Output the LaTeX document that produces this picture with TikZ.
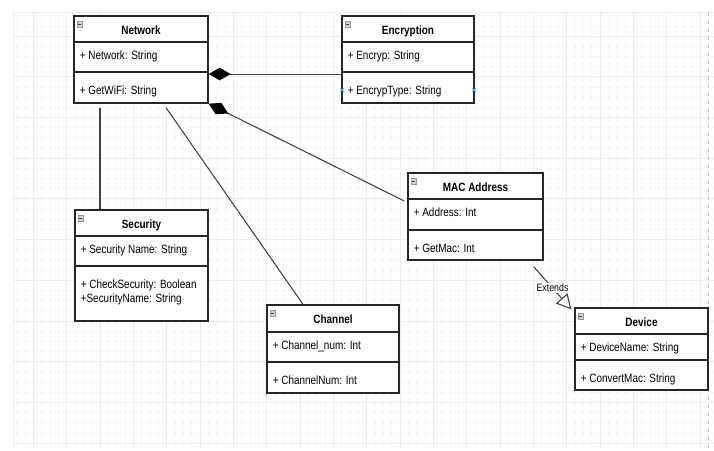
\documentclass[tikz,border=0pt]{standalone}
\usepackage{fontspec}
\setmainfont{Liberation Sans}[FakeStretch=0.83]
\usetikzlibrary{arrows.meta,fit,calc}
\definecolor{gridminor}{HTML}{F8F8F8}
\definecolor{gridmajor}{HTML}{EDEDED}
\definecolor{selblue}{HTML}{29A8F0}
\tikzset{
  classbox/.style={draw=black!85, line width=1pt, inner sep=0pt, fill=white},
  sepline/.style={draw=black!85, line width=1pt},
  iconstyle/.style={draw=gray!80, fill=gray!35, line width=0.45pt},
  iconminus/.style={draw=black!75, line width=0.55pt},
  titletext/.style={font=\fontsize{9pt}{10.5pt}\selectfont\bfseries, inner sep=0pt, anchor=base},
  bodytext/.style={font=\fontsize{9pt}{10.5pt}\selectfont, inner sep=0pt, anchor=base west},
  conn/.style={draw=black!75, line width=0.8pt},
  comp/.style={conn, {Diamond[length=16.5pt,width=9.5pt,color=black]}-},
  ext/.style={conn, -{Triangle[open,length=11pt,width=11.5pt]}},
  extlabel/.style={font=\fontsize{8pt}{9pt}\selectfont, fill=white, inner sep=0.8pt},
  selmark/.style={draw=selblue, line width=0.6pt},
}
% #1 name, #2 x1, #3 y1, #4 x2, #5 y2, #6 header line y, #7 separator y, #8 title, #9 attribute
\newcommand\umlbox[9]{%
  \node[classbox, fit={(#2,#3) (#4,#5)}] (#1) {};
  \draw[sepline] (#2,#6) -- (#4,#6);
  \draw[sepline] (#2,#7) -- (#4,#7);
  \draw[iconstyle] ({#2+3.2},{#3+5.5}) rectangle ({#2+8.4},{#3+11.5});
  \draw[iconminus] ({#2+4.3},{#3+8.5}) -- ({#2+7.3},{#3+8.5});
  \node[titletext] (#1-t) at ({(#2+#4)/2},{(#3+#6)/2+5}) {#8};
  \node[bodytext] (#1-a) at ({#2+5.5},{#6+17.5}) {#9};
  \coordinate (#1-m) at ({#2+5.5},{#7+22.5});
}
\begin{document}
\begin{tikzpicture}[x=0.75pt, y=-0.75pt]
\useasboundingbox (0,0) rectangle (714,450);
% background grid
\begin{scope}
  \clip (13,12) rectangle (714,448);
  \foreach \i in {0,...,86} {\draw[gridminor, line width=0.4pt] ({8.3333*\i},0) -- ({8.3333*\i},450);}
  \foreach \j in {0,...,45} {\draw[gridminor, line width=0.4pt] (0,{-4.7+10.175*\j}) -- (714,{-4.7+10.175*\j});}
  \foreach \i in {0,...,22} {\draw[gridmajor, line width=0.5pt] ({33.3333*\i},0) -- ({33.3333*\i},450);}
  \foreach \j in {0,...,12} {\draw[gridmajor, line width=0.5pt] (0,{-4.7+40.7*\j}) -- (714,{-4.7+40.7*\j});}
\end{scope}
\draw[gridmajor, line width=0.5pt] (13,12) -- (714,12);
\draw[gridmajor, line width=0.5pt] (13,12) -- (13,448);
\draw[gray!45, dashed, line width=0.6pt] (708,12) -- (708,448);

% classes
\umlbox{net}{74}{16}{208}{103}{42}{72}{Network}{+ Network: String}
\node[bodytext] (net-mt) at (net-m) {+ GetWiFi: String};

\umlbox{enc}{342}{16}{474}{103}{42}{72}{Encryption}{+ Encryp: String}
\node[bodytext] (enc-mt) at (enc-m) {+ EncrypType: String};

\umlbox{sec}{75}{210}{208}{321}{236}{266}{Security}{+ Security Name: String}
\node[bodytext] (sec-mt) at (sec-m) {+ CheckSecurity: Boolean};
\node[bodytext] (sec-mt2) at ([yshift=-10.8pt]sec-m) {+SecurityName: String};

\umlbox{mac}{408}{173}{543}{260}{199}{230}{MAC Address}{+ Address: Int}
\node[bodytext] (mac-mt) at (mac-m) {+ GetMac: Int};

\umlbox{chan}{267}{305}{399}{393}{332}{362}{Channel}{+ Channel\_num: Int}
\node[bodytext] (chan-mt) at (chan-m) {+ ChannelNum: Int};

\umlbox{dev}{575}{308}{708}{390}{334}{360}{Device}{+ DeviceName: String}
\node[bodytext] (dev-mt) at (dev-m) {+ ConvertMac: String};

% selection markers on Encryption
\draw[selmark] (340.5,88.5) -- (343.5,91.5) (340.5,91.5) -- (343.5,88.5);
\draw[selmark] (472.5,88.5) -- (475.5,91.5) (472.5,91.5) -- (475.5,88.5);

% connectors
\draw[comp] ([yshift=-10.9pt]net.east) -- ([yshift=-10.9pt]enc.west);
\draw[comp] (net.south east) -- ([xshift=-2.25pt,yshift=11.6pt]mac.west);
\coordinate (nsA) at ([xshift=-30.75pt,yshift=-3pt]net.south);
\draw[conn] (nsA) -- (nsA |- sec.north);
\coordinate (ncA) at ([xshift=18.75pt,yshift=-3pt]net.south);
\draw[conn] (ncA) -- ([xshift=-22.5pt]chan.north);
\draw[ext] ([xshift=-7.5pt,yshift=-4.5pt]mac.south east) -- node[extlabel] (extl) {Extends} ([xshift=-2.25pt,yshift=-1.5pt]dev.north west);
\end{tikzpicture}
\end{document}
